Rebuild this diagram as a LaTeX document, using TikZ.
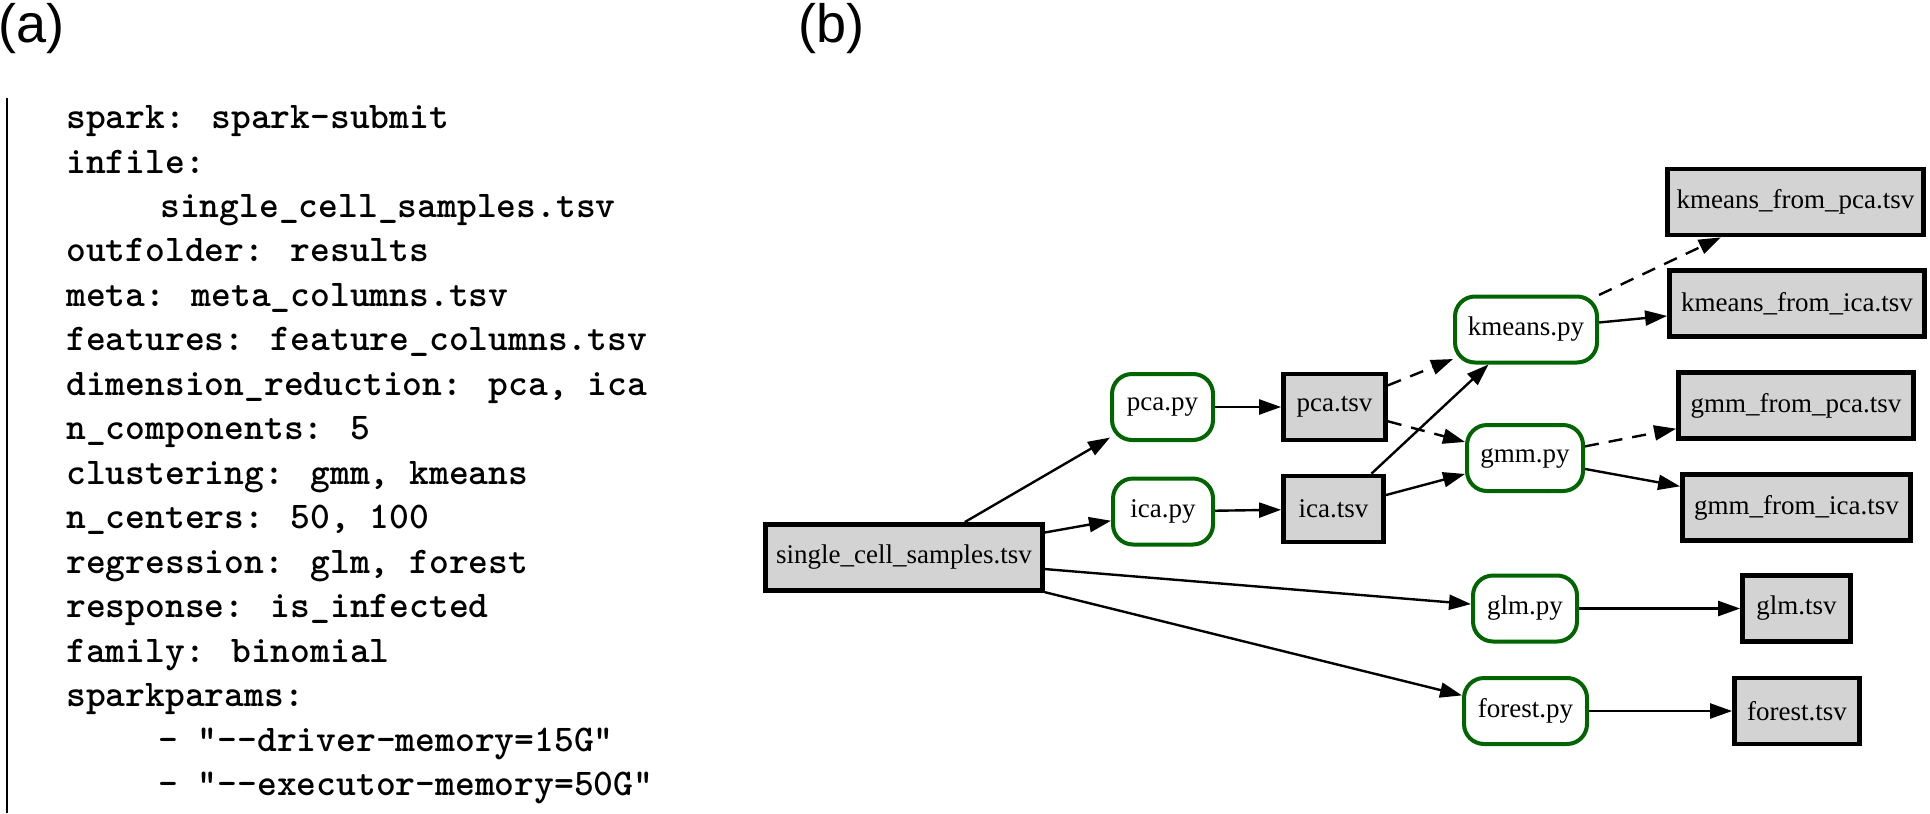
\documentclass[tikz,border=0pt]{standalone}
\usepackage{fontspec}
\newfontfamily\graphfont{Liberation Serif}
\newfontfamily\labelfont{Liberation Sans}
\usetikzlibrary{arrows.meta}
\definecolor{boxgrey}{RGB}{211,211,211}
\definecolor{progreen}{RGB}{0,100,0}
\newcommand\dhy{-\kern0pt-}
\newcommand\dq{\symbol{34}}
\begin{document}
\begin{tikzpicture}[x=0.5pt,y=-0.5pt,
  panellabel/.style={font=\labelfont\fontsize{27pt}{32pt}\selectfont, inner sep=0pt, anchor=base west},
  codeline/.style={font=\ttfamily\bfseries\fontsize{18.85pt}{22pt}\selectfont, inner sep=0pt, anchor=base west},
  filebox/.style={draw=black, line width=2.4pt, fill=boxgrey, minimum height=33pt, inner sep=0pt,
    font=\graphfont\fontsize{13.5pt}{16pt}\selectfont},
  progbox/.style={draw=progreen, line width=2pt, fill=white, rounded corners=10pt, minimum height=33pt, inner sep=0pt,
    font=\graphfont\fontsize{13.5pt}{16pt}\selectfont},
  edge/.style={line width=1.2pt, -{Triangle[length=11pt,width=7.5pt]}},
  dashedge/.style={edge, dash pattern=on 7pt off 5pt}
]
\useasboundingbox (0,0) rectangle (1930,813);

% panel labels
\node[panellabel] (la) at (-2,43) {(a)};
\node[panellabel] (lb) at (798,43) {(b)};

% left rule
\coordinate (rtop) at (7,98);
\coordinate (rbot) at (7,813);
\draw[line width=1.2pt] (rtop) -- (rbot);

% config text
\node[codeline] (c1)  at (66,128.5) {spark: spark-submit};
\node[codeline] (c2)  at (66,173.0) {infile:};
\node[codeline] (c3)  at (160,217.4) {single\_cell\_samples.tsv};
\node[codeline] (c4)  at (66,261.9) {outfolder: results};
\node[codeline] (c5)  at (66,306.4) {meta: meta\_columns.tsv};
\node[codeline] (c6)  at (66,350.9) {features: feature\_columns.tsv};
\node[codeline] (c7)  at (66,395.3) {dimension\_reduction: pca, ica};
\node[codeline] (c8)  at (66,439.8) {n\_components: 5};
\node[codeline] (c9)  at (66,484.3) {clustering: gmm, kmeans};
\node[codeline] (c10) at (66,528.7) {n\_centers: 50, 100};
\node[codeline] (c11) at (66,573.2) {regression: glm, forest};
\node[codeline] (c12) at (66,617.7) {response: is\_infected};
\node[codeline] (c13) at (66,662.2) {family: binomial};
\node[codeline] (c14) at (66,706.6) {sparkparams:};
\node[codeline] (c15) at (158,751.1) {- \dq\dhy driver-memory=15G\dq};
\node[codeline] (c16) at (158,795.6) {- \dq\dhy executor-memory=50G\dq};

% graph nodes
\node[filebox, minimum width=138.5pt] (scs) at (904,557.5) {single\_cell\_samples.tsv};
\node[progbox, minimum width=50.5pt] (pcapy) at (1162.5,407) {pca.py};
\node[progbox, minimum width=50pt] (icapy) at (1163,511.5) {ica.py};
\node[filebox, minimum width=51pt] (pcatsv) at (1334.5,407) {pca.tsv};
\node[filebox, minimum width=50pt] (icatsv) at (1333.5,509) {ica.tsv};
\node[progbox, minimum width=71pt] (kmeanspy) at (1526,329.5) {kmeans.py};
\node[progbox, minimum width=58pt] (gmmpy) at (1525,458) {gmm.py};
\node[filebox, minimum width=128pt] (kfp) at (1795.5,202) {kmeans\_from\_pca.tsv};
\node[filebox, minimum width=127.5pt] (kfi) at (1797,303.5) {kmeans\_from\_ica.tsv};
\node[filebox, minimum width=117.5pt] (gfp) at (1796,405.5) {gmm\_from\_pca.tsv};
\node[filebox, minimum width=114pt] (gfi) at (1796.5,507.5) {gmm\_from\_ica.tsv};
\node[progbox, minimum width=52pt] (glmpy) at (1525,608.5) {glm.py};
\node[filebox, minimum width=54pt] (glmtsv) at (1796.5,608.5) {glm.tsv};
\node[progbox, minimum width=61.5pt] (forestpy) at (1525.5,711) {forest.py};
\node[filebox, minimum width=62.5pt] (foresttsv) at (1797,711) {forest.tsv};

% edges
\draw[edge] (scs) -- (pcapy);
\draw[edge] (scs) -- (icapy);
\draw[edge] (scs) -- (glmpy);
\draw[edge] (scs) -- (forestpy);
\draw[edge] (pcapy) -- (pcatsv);
\draw[edge] (icapy) -- (icatsv);
\draw[dashedge] (pcatsv) -- (kmeanspy);
\draw[dashedge] (pcatsv) -- (gmmpy);
\draw[edge] (icatsv) -- (kmeanspy);
\draw[edge] (icatsv) -- (gmmpy);
\draw[dashedge] (kmeanspy) -- (kfp);
\draw[edge] (kmeanspy) -- (kfi);
\draw[dashedge] (gmmpy) -- (gfp);
\draw[edge] (gmmpy) -- (gfi);
\draw[edge] (glmpy) -- (glmtsv);
\draw[edge] (forestpy) -- (foresttsv);
\end{tikzpicture}
\end{document}
